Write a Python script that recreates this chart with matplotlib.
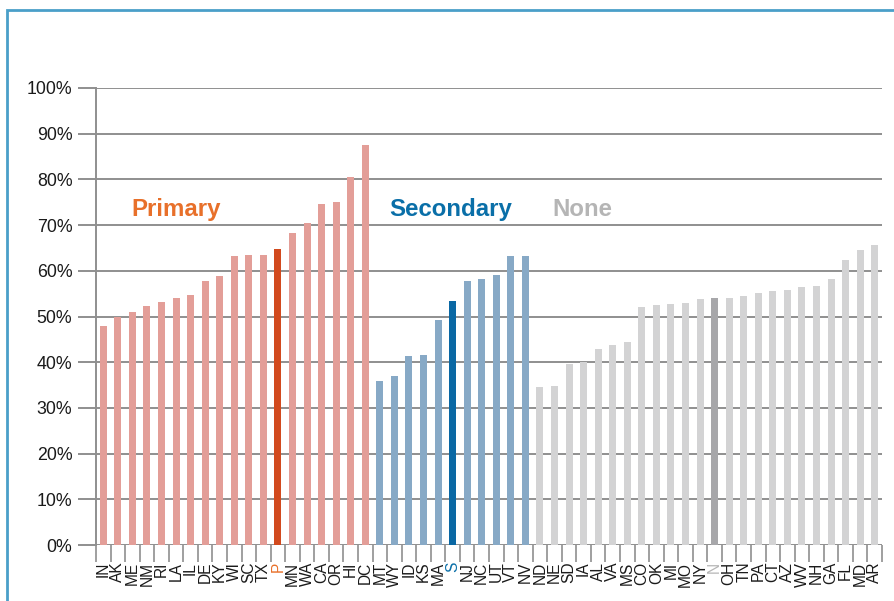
import matplotlib
matplotlib.use("Agg")
import matplotlib.pyplot as plt
from matplotlib.patches import Rectangle

plt.rcParams['font.family'] = ['Liberation Sans', 'DejaVu Sans']

primary_states = ["IN","AK","ME","NM","RI","LA","IL","DE","KY","WI","SC","TX","P","MN","WA","CA","OR","HI","DC"]
primary_vals = [47.9,49.8,51.0,52.3,53.2,54.0,54.7,57.8,58.9,63.2,63.5,63.5,64.8,68.3,70.5,74.6,75.1,80.5,87.5]
secondary_states = ["MT","WY","ID","KS","MA","S","NJ","NC","UT","VT","NV"]
secondary_vals = [35.9,37.0,41.4,41.6,49.2,53.4,57.8,58.2,59.1,63.2,63.2]
none_states = ["ND","NE","SD","IA","AL","VA","MS","CO","OK","MI","MO","NY","N","OH","TN","PA","CT","AZ","WV","NH","GA","FL","MD","AR"]
none_vals = [34.6,34.8,39.6,40.0,42.9,43.8,44.4,52.1,52.5,52.7,52.9,53.8,54.0,54.0,54.5,55.1,55.6,55.8,56.5,56.7,58.2,62.4,64.6,65.6]
group_names = ["Primary", "Secondary", "None"]
avg_labels = ["P", "S", "N"]

groups = [
    (primary_states, primary_vals, "#e39e98", "#d24a1e", "#e8702a"),
    (secondary_states, secondary_vals, "#87a9c6", "#0a68a4", "#0a6fa8"),
    (none_states, none_vals, "#d3d3d4", "#a7a7aa", "#b5b5b5"),
]

fig = plt.figure(figsize=(8.95, 6.01), dpi=100)
fig.patches.append(Rectangle((7/895, -0.1), 1.0, 1 - 10/601 + 0.1, transform=fig.transFigure,
                             fill=False, edgecolor="#4a9fc9", linewidth=2.0))
ax = fig.add_axes([96/895, 1 - 545/601, (882-96)/895, (545-88)/601])

labels = []
label_colors = []
x = 0
text_pos = {"Primary": 1.9, "Secondary": 19.65, "None": 30.85}
for (states, vals, c, hc, tc), name, avg in zip(groups, group_names, avg_labels):
    for s, v in zip(states, vals):
        col = hc if s == avg else c
        ax.bar(x, v, width=0.48, color=col, zorder=3)
        labels.append(s)
        label_colors.append(tc if s == avg else "#1a1a1a")
        x += 1
    ax.text(text_pos[name], 73.5, name, color=tc, fontsize=17.3, fontweight="bold",
            va="center", ha="left")

n = len(labels)
ax.set_xlim(-0.5, n - 0.5)
ax.set_ylim(0, 100)
ax.set_yticks(range(0, 101, 10))
ax.set_yticklabels([f"{v}%" for v in range(0, 101, 10)], fontsize=12.8, color="#1a1a1a")
for y in range(0, 101, 10):
    ax.axhline(y, color="#8f8f8f", linewidth=1.4, zorder=1)
ax.tick_params(axis="y", length=13, width=1.4, color="#8f8f8f", pad=4)

ax.set_xticks(range(n))
ax.set_xticklabels(labels, rotation=90, fontsize=11.2)
for t, c in zip(ax.get_xticklabels(), label_colors):
    t.set_color(c)
ax.set_xticks([i - 0.5 for i in range(n + 1)], minor=True)
ax.tick_params(axis="x", which="major", length=0, pad=12)
ax.tick_params(axis="x", which="minor", length=12, width=1.2, color="#8f8f8f")

for side in ["top", "right", "bottom"]:
    ax.spines[side].set_visible(False)
ax.spines["left"].set_color("#8f8f8f")
ax.spines["left"].set_linewidth(1.4)

fig.savefig("out.png", dpi=100)
